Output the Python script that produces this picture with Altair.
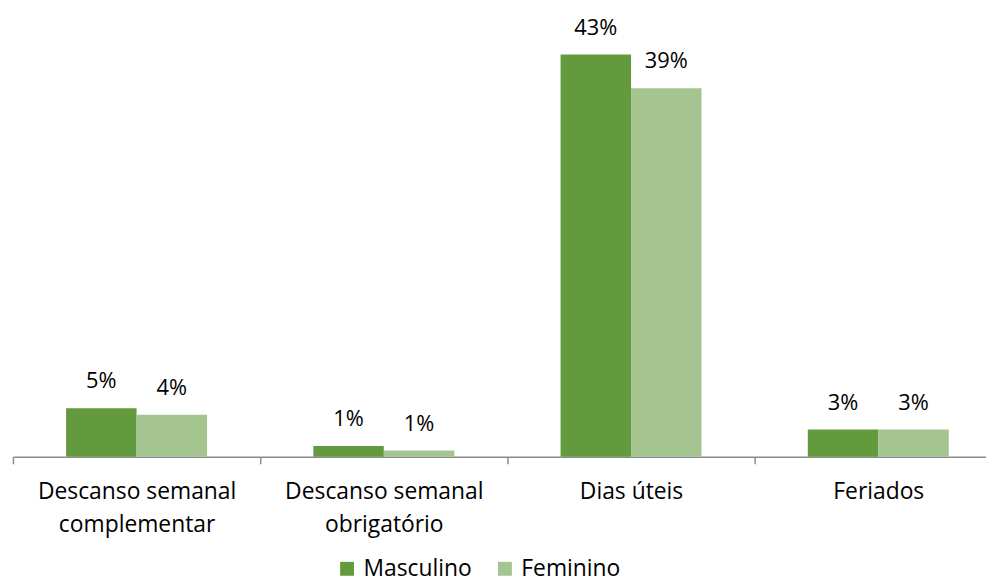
import altair as alt
import pandas as pd

categories = ["Descanso semanal complementar", "Descanso semanal obrigatório", "Dias úteis", "Feriados"]
category_lines = [["Descanso semanal", "complementar"], ["Descanso semanal", "obrigatório"], ["Dias úteis"], ["Feriados"]]
series = ["Masculino", "Feminino"]
masculino = [0.052, 0.0117, 0.430, 0.0293]
feminino = [0.0449, 0.0067, 0.394, 0.0293]
colors = ["#639A3E", "#A4C590"]

rows = []
for i, c in enumerate(categories):
    rows.append({"cat": c, "sexo": "Masculino", "v": masculino[i]})
    rows.append({"cat": c, "sexo": "Feminino", "v": feminino[i]})
df = pd.DataFrame(rows)

expr = "datum.label"
for c, lines in reversed(list(zip(categories, category_lines))):
    arr = "[" + ",".join("'" + l + "'" for l in lines) + "]"
    expr = f"datum.label == '{c}' ? {arr} : ({expr})"

FONT = "Open Sans"

x = alt.X(
    "cat:N", sort=categories, title=None,
    scale=alt.Scale(paddingInner=0, paddingOuter=0),
    axis=alt.Axis(labelAngle=0, tickBand="extent", labelExpr=expr, labelLineHeight=33,
                  labelFont=FONT, labelFontSize=23, labelColor="#000000", labelPadding=17,
                  labelLimit=1000,
                  domainColor="#8c8c8c", domainWidth=1.5, tickColor="#8c8c8c", tickWidth=1.5,
                  tickSize=7, grid=False, labelBaseline="top"),
)
xo = alt.XOffset("sexo:N", sort=series, scale=alt.Scale(paddingOuter=0.754, paddingInner=0))
y = alt.Y("v:Q", scale=alt.Scale(domain=[0, 0.45], nice=False), axis=None)

bars = alt.Chart(df).mark_bar().encode(
    x=x, xOffset=xo, y=y,
    color=alt.Color("sexo:N", sort=series, scale=alt.Scale(domain=series, range=colors),
                    legend=alt.Legend(title=None, orient="none", direction="horizontal",
                                      legendX=325, legendY=525, symbolType="square",
                                      symbolSize=196, symbolStrokeWidth=0, labelFont=FONT,
                                      labelFontSize=23, labelColor="#000000", columnPadding=21,
                                      labelOffset=5, labelLimit=1000)),
)
labels = alt.Chart(df).mark_text(dy=-27, baseline="middle", font=FONT, fontSize=22, color="#000000").encode(
    x=alt.X("cat:N", sort=categories), xOffset=alt.XOffset("sexo:N", sort=series), y=y,
    text=alt.Text("v:Q", format=".0%"),
)

chart = (bars + labels).properties(
    width=996, height=424,
    autosize=alt.AutoSizeParams(type="none"),
    padding={"left": 5, "top": 26, "right": -16, "bottom": 125},
).configure_view(stroke=None)

chart.save("out.html", embed_options={"renderer": "svg", "actions": False})
